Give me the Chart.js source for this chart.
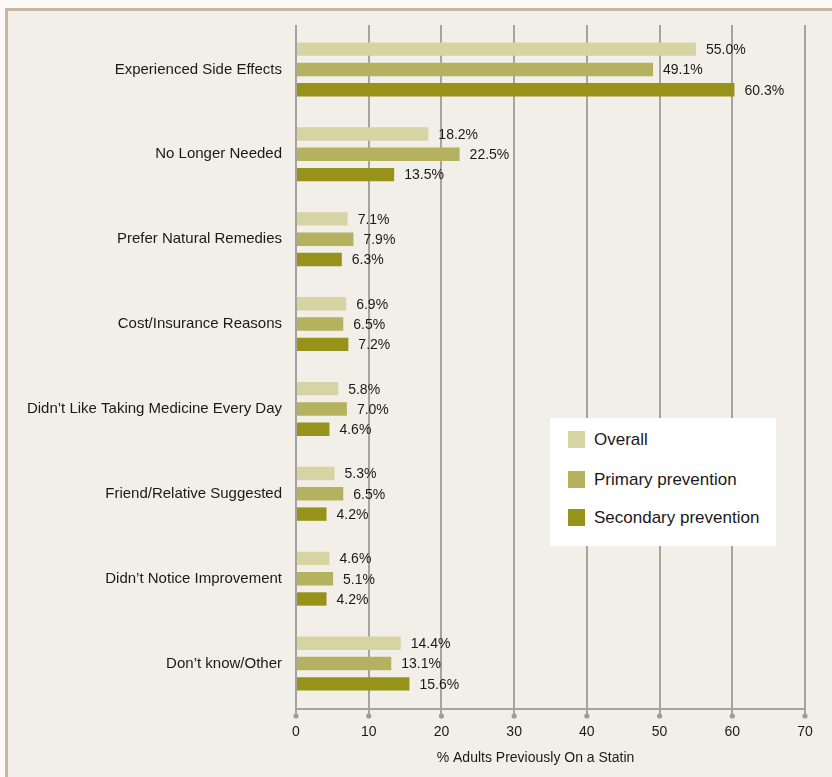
<!DOCTYPE html>
<html lang="en">
<head>
    <meta charset="UTF-8">
    <title>Reasons for Stopping Statins</title>
    <script src="https://cdn.jsdelivr.net/npm/chart.js"></script>
    <style>
        html, body {
            margin: 0;
            padding: 0;
            background: #fbfaf7;
            overflow: hidden;
        }

        #frame {
            position: absolute;
            left: 5px;
            top: 8px;
            width: 900px;
            height: 900px;
            background: #f2efe9;
            border-top: 3px solid #c6b69f;
            border-left: 3px solid #c6b69f;
        }

        #wrap {
            position: absolute;
            left: 0;
            top: 0;
            width: 832px;
            height: 777px;
        }

        #legend {
            position: absolute;
            left: 550px;
            top: 418px;
            width: 226px;
            height: 128px;
            background: #ffffff;
            font-family: "Liberation Sans", Arial, sans-serif;
            font-size: 17px;
            color: #1a1a1a;
        }

        #legend .item {
            position: absolute;
            left: 18px;
            height: 20px;
            line-height: 20px;
            white-space: nowrap;
        }

        #legend .box {
            display: inline-block;
            width: 17px;
            height: 17px;
            vertical-align: -3px;
            margin-right: 9px;
        }
    </style>
</head>
<body>
    <div id="frame"></div>
    <div id="wrap">
        <canvas id="statinChart"></canvas>
        <div id="legend"></div>
    </div>
    <script>
        const categories = [
            'Experienced Side Effects',
            'No Longer Needed',
            'Prefer Natural Remedies',
            'Cost/Insurance Reasons',
            'Didn\u2019t Like Taking Medicine Every Day',
            'Friend/Relative Suggested',
            'Didn\u2019t Notice Improvement',
            'Don\u2019t know/Other'
        ];
        const overall = [55.0, 18.2, 7.1, 6.9, 5.8, 5.3, 4.6, 14.4];
        const primary = [49.1, 22.5, 7.9, 6.5, 7.0, 6.5, 5.1, 13.1];
        const secondary = [60.3, 13.5, 6.3, 7.2, 4.6, 4.2, 4.2, 15.6];
        const seriesNames = ['Overall', 'Primary prevention', 'Secondary prevention'];
        const xTicks = [0, 10, 20, 30, 40, 50, 60, 70];
        const xTitle = '% Adults Previously On a Statin';

        const colors = ['#d6d4a3', '#b4b25f', '#96921a'];
        const font = '"Liberation Sans", Arial, sans-serif';

        // the bars sit a bit inside the gridline area (gridlines run 2px higher, axis 3px lower)
        const bandInset = {
            id: 'bandInset',
            afterLayout(chart) {
                const ys = chart.scales.y;
                ys.top += 2;
                ys.bottom -= 3;
                ys.configure();
            }
        };

        // percentage labels at the end of each bar
        const valueLabels = {
            id: 'valueLabels',
            afterDatasetsDraw(chart) {
                const ctx = chart.ctx;
                ctx.save();
                ctx.font = '14px ' + font;
                ctx.fillStyle = '#1a1a1a';
                ctx.textBaseline = 'middle';
                ctx.textAlign = 'left';
                chart.data.datasets.forEach((ds, i) => {
                    chart.getDatasetMeta(i).data.forEach((bar, j) => {
                        ctx.fillText(ds.data[j].toFixed(1) + '%', bar.x + 10, bar.y + 1);
                    });
                });
                ctx.restore();
            }
        };

        // little dots under each x tick, plus the axis title (sits a little left of centre)
        const axisExtras = {
            id: 'axisExtras',
            afterDraw(chart) {
                const ctx = chart.ctx;
                const xs = chart.scales.x;
                ctx.save();
                ctx.fillStyle = '#9c9c9c';
                xTicks.forEach(v => {
                    ctx.beginPath();
                    ctx.arc(xs.getPixelForValue(v), xs.top + 7, 2.6, 0, Math.PI * 2);
                    ctx.fill();
                });
                ctx.fillStyle = '#1a1a1a';
                ctx.font = '14px ' + font;
                ctx.textAlign = 'center';
                ctx.textBaseline = 'middle';
                ctx.fillText(xTitle, (xs.left + xs.right) / 2 - 15, xs.top + 49);
                ctx.restore();
            }
        };

        const datasets = [overall, primary, secondary].map((vals, i) => ({
            label: seriesNames[i],
            data: vals,
            backgroundColor: colors[i],
            borderWidth: 0,
            categoryPercentage: 0.717,
            barPercentage: 0.66
        }));

        new Chart(document.getElementById('statinChart'), {
            type: 'bar',
            data: { labels: categories, datasets: datasets },
            plugins: [bandInset, valueLabels, axisExtras],
            options: {
                indexAxis: 'y',
                responsive: true,
                maintainAspectRatio: false,
                animation: false,
                layout: { padding: { top: 25, right: 27, left: 0, bottom: 0 } },
                plugins: {
                    legend: { display: false },
                    tooltip: { enabled: false }
                },
                scales: {
                    x: {
                        min: 0,
                        max: 70,
                        afterFit(scale) { scale.height = 68; },
                        afterBuildTicks(scale) { scale.ticks = xTicks.map(v => ({ value: v })); },
                        grid: {
                            color: '#a4a4a4',
                            lineWidth: 2,
                            tickLength: 7,
                            tickColor: '#a4a4a4'
                        },
                        border: { display: true, color: '#a4a4a4', width: 2 },
                        ticks: {
                            padding: 8,
                            color: '#1a1a1a',
                            font: { family: font, size: 14 }
                        }
                    },
                    y: {
                        afterFit(scale) { scale.width = 296; },
                        grid: { display: false, drawTicks: false },
                        border: { display: false },
                        ticks: {
                            padding: 14,
                            color: '#1a1a1a',
                            font: { family: font, size: 15 }
                        }
                    }
                }
            }
        });

        // legend box inside the plot
        const legend = document.getElementById('legend');
        const legendTops = [12, 52, 90];
        seriesNames.forEach((name, i) => {
            const item = document.createElement('div');
            item.className = 'item';
            item.style.top = legendTops[i] + 'px';
            item.innerHTML = '<span class="box" style="background:' + colors[i] + '"></span>' + name;
            legend.appendChild(item);
        });
    </script>
</body>
</html>
